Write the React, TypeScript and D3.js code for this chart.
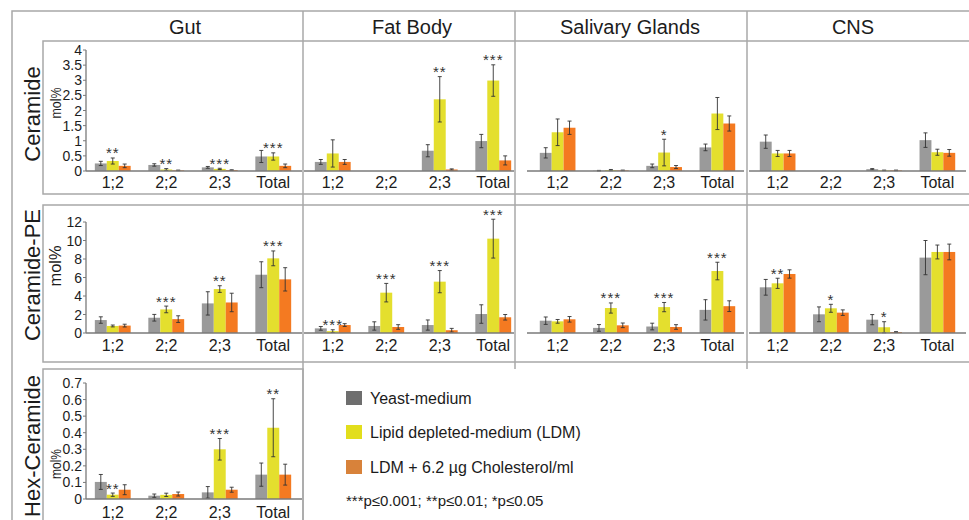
import React from 'react';
import * as d3 from 'd3';

const tissues = ['Gut', 'Fat Body', 'Salivary Glands', 'CNS'];
const categories = ['1;2', '2;2', '2;3', 'Total'];
const seriesNames = ['Yeast-medium', 'Lipid depleted-medium (LDM)', 'LDM + 6.2 µg Cholesterol/ml'];
const rowNames = ['Ceramide', 'Ceramide-PE', 'Hex-Ceramide'];
const pLegend = '***p≤0.001; **p≤0.01; *p≤0.05';

// each category: [yeast, LDM, LDM + cholesterol]
// Ceramide
const cerGut = [[0.25, 0.33, 0.17], [0.2, 0.05, 0.02], [0.12, 0.07, 0.03], [0.48, 0.48, 0.17]];
const cerGutErr = [[0.07, 0.1, 0.06], [0.04, 0.03, 0.01], [0.03, 0.02, 0.01], [0.2, 0.12, 0.06]];
const cerGutSig = ['**', '**', '***', '***'];
const cerFat = [[0.3, 0.58, 0.3], [0, 0, 0], [0.67, 2.37, 0.05], [0.99, 2.99, 0.35]];
const cerFatErr = [[0.08, 0.45, 0.08], [0, 0, 0], [0.2, 0.75, 0.02], [0.22, 0.52, 0.15]];
const cerFatSig = ['', '', '**', '***'];
const cerSal = [[0.6, 1.28, 1.43], [0.01, 0.03, 0.02], [0.17, 0.61, 0.13], [0.78, 1.9, 1.57]];
const cerSalErr = [[0.17, 0.44, 0.22], [0.01, 0.02, 0.01], [0.06, 0.44, 0.05], [0.11, 0.53, 0.25]];
const cerSalSig = ['', '', '*', ''];
const cerCns = [[0.97, 0.58, 0.58], [0, 0, 0], [0.06, 0.02, 0.02], [1.02, 0.62, 0.6]];
const cerCnsErr = [[0.22, 0.1, 0.1], [0, 0, 0], [0.02, 0.01, 0.01], [0.24, 0.1, 0.11]];
const cerCnsSig = ['', '', '', ''];

// Ceramide-PE
const pepGut = [[1.4, 0.76, 0.8], [1.65, 2.55, 1.5], [3.2, 4.75, 3.3], [6.3, 8.07, 5.8]];
const pepGutErr = [[0.35, 0.1, 0.15], [0.36, 0.36, 0.36], [1.26, 0.36, 1.0], [1.4, 0.8, 1.26]];
const pepGutSig = ['', '***', '**', '***'];
const pepFat = [[0.5, 0.2, 0.86], [0.76, 4.36, 0.65], [0.86, 5.55, 0.3], [2.05, 10.2, 1.7]];
const pepFatErr = [[0.2, 0.15, 0.15], [0.45, 1.0, 0.25], [0.55, 1.2, 0.2], [1.0, 2.1, 0.3]];
const pepFatSig = ['***', '***', '***', '***'];
const pepSal = [[1.33, 1.26, 1.48], [0.55, 2.7, 0.83], [0.7, 2.8, 0.65], [2.5, 6.7, 2.9]];
const pepSalErr = [[0.4, 0.2, 0.3], [0.36, 0.55, 0.25], [0.36, 0.5, 0.25], [1.1, 0.95, 0.58]];
const pepSalSig = ['', '***', '***', '***'];
const pepCns = [[4.94, 5.37, 6.38], [2.02, 2.67, 2.2], [1.44, 0.62, 0.1], [8.15, 8.76, 8.76]];
const pepCnsErr = [[0.85, 0.55, 0.45], [0.8, 0.43, 0.3], [0.55, 0.6, 0.05], [1.85, 0.75, 0.85]];
const pepCnsSig = ['**', '*', '*', ''];

// Hex-Ceramide
const hexGut = [[0.103, 0.026, 0.056], [0.02, 0.025, 0.03], [0.04, 0.3, 0.056], [0.147, 0.43, 0.147]];
const hexGutErr = [[0.045, 0.01, 0.03], [0.01, 0.01, 0.012], [0.035, 0.065, 0.015], [0.07, 0.175, 0.063]];
const hexGutSig = ['**', '', '***', '**'];

const barColors = ['#9a9a9a', '#e4df2e', '#f47a21'];
const swatchColors = ['#6e6e6e', '#e2de1c', '#d8823a'];
const lineColor = '#a8a8a8';
const textColor = '#1c1c1c';
const font = "'Liberation Sans', Arial, sans-serif";

const rows = [
  { y0: 171, y1: 50, max: 4, ticks: d3.range(0, 4.01, 0.5), molSize: 15, molLen: 31, molY: 103, labelY: 114, catY: 188 },
  { y0: 333, y1: 222, max: 12, ticks: d3.range(0, 12.01, 2), molSize: 16, molLen: 41, molY: 266, labelY: 275, catY: 351 },
  { y0: 499, y1: 383, max: 0.7, ticks: d3.range(0, 0.701, 0.1), molSize: 15, molLen: 30, molY: 464, labelY: 446, catY: 518 },
];

const cols = [
  { x0: 86, x1: 300, ax0: 86, ax1: 302, title: 185 },
  { x0: 306, x1: 520, ax0: 304, ax1: 514, title: 412 },
  { x0: 531, x1: 744, ax0: 527, ax1: 744, title: 630 },
  { x0: 751, x1: 964, ax0: 749, ax1: 966, title: 853 },
];

const panels = [
  { row: 0, col: 0, v: cerGut, e: cerGutErr, s: cerGutSig },
  { row: 0, col: 1, v: cerFat, e: cerFatErr, s: cerFatSig },
  { row: 0, col: 2, v: cerSal, e: cerSalErr, s: cerSalSig },
  { row: 0, col: 3, v: cerCns, e: cerCnsErr, s: cerCnsSig },
  { row: 1, col: 0, v: pepGut, e: pepGutErr, s: pepGutSig },
  { row: 1, col: 1, v: pepFat, e: pepFatErr, s: pepFatSig },
  { row: 1, col: 2, v: pepSal, e: pepSalErr, s: pepSalSig },
  { row: 1, col: 3, v: pepCns, e: pepCnsErr, s: pepCnsSig },
  { row: 2, col: 0, v: hexGut, e: hexGutErr, s: hexGutSig },
];

function fmt(t: number) {
  return String(Math.round(t * 10) / 10);
}

function Panel({ p }: { p: any }) {
  const r = rows[p.row];
  const c = cols[p.col];
  const y = d3.scaleLinear().domain([0, r.max]).range([r.y0, r.y1]);
  const x = d3.scaleBand().domain(categories).range([c.x0, c.x1]).paddingInner(0.33).paddingOuter(0.165);
  const xs = d3.scaleBand().domain(['0', '1', '2']).range([0, x.bandwidth()]);
  const cap = 2;
  return (
    <g>
      {categories.map((cat, i) => {
        const gx = x(cat) as number;
        return (
          <g key={cat}>
            {p.v[i].map((val: number, k: number) => {
              const bx = gx + (xs(String(k)) as number);
              const top = y(val);
              return (
                <rect key={k} x={bx} y={top} width={xs.bandwidth()} height={r.y0 - top} fill={barColors[k]} />
              );
            })}
            {p.v[i].map((val: number, k: number) => {
              const err = p.e[i][k];
              if (val <= 0 && err <= 0) return null;
              const cx = gx + (xs(String(k)) as number) + xs.bandwidth() / 2;
              const hi = y(val + err);
              const lo = y(Math.max(0, val - err));
              return (
                <g key={'e' + k} stroke="#333" strokeWidth={0.9}>
                  <line x1={cx} x2={cx} y1={hi} y2={lo} />
                  <line x1={cx - cap} x2={cx + cap} y1={hi} y2={hi} />
                  <line x1={cx - cap} x2={cx + cap} y1={lo} y2={lo} />
                </g>
              );
            })}
            {p.s[i] && (
              <text
                x={gx + x.bandwidth() / 2}
                y={y(p.v[i][1] + p.e[i][1]) + 0.5}
                textAnchor="middle"
                fontSize={15}
                fill="#333"
                letterSpacing={1}
              >
                {p.s[i]}
              </text>
            )}
            <text x={gx + x.bandwidth() / 2} y={r.catY} textAnchor="middle" fontSize={16} fill={textColor}>
              {cat}
            </text>
          </g>
        );
      })}
      <line x1={c.ax0} x2={c.ax1} y1={r.y0} y2={r.y0} stroke="#7a7a7a" strokeWidth={1.3} />
      {p.col === 0 && (
        <g>
          <line x1={86} x2={86} y1={r.y1} y2={r.y0} stroke="#7a7a7a" strokeWidth={1.3} />
          {r.ticks.map((t) => (
            <g key={t}>
              <line x1={83} x2={86} y1={y(t)} y2={y(t)} stroke="#7a7a7a" strokeWidth={1} />
              <text x={82} y={y(t)} dy="0.36em" textAnchor="end" fontSize={14} fill={textColor}>
                {fmt(t)}
              </text>
            </g>
          ))}
          <text
            transform={`translate(61,${r.molY}) rotate(-90)`}
            textAnchor="middle"
            fontSize={r.molSize}
            textLength={r.molLen}
            lengthAdjust="spacingAndGlyphs"
            fill={textColor}
          >
            mol%
          </text>
          <text
            transform={`translate(40,${r.labelY}) rotate(-90)`}
            textAnchor="middle"
            fontSize={22}
            fill={textColor}
          >
            {rowNames[p.row]}
          </text>
        </g>
      )}
    </g>
  );
}

export default function App() {
  const legendY = [391, 425, 460];
  return (
    <svg
      width={969}
      height={520}
      style={{ position: 'absolute', left: 0, top: 0, background: '#fff' }}
      fontFamily={font}
    >
      <rect x={0} y={0} width={969} height={520} fill="#fff" />
      <g fill="none" stroke={lineColor} strokeWidth={1.5}>
        <path d="M12,520 V11 H969" />
        <path d="M969,41 H43 V194 H969" />
        <path d="M969,205 H43 V362 H969" />
        <path d="M303,520 V369 H43 V520" />
        <line x1={303} x2={303} y1={11} y2={520} />
        <line x1={515} x2={515} y1={11} y2={369} />
        <line x1={747} x2={747} y1={11} y2={369} />
      </g>
      {tissues.map((t, i) => (
        <text key={t} x={cols[i].title} y={34} textAnchor="middle" fontSize={20} fill={textColor}>
          {t}
        </text>
      ))}
      {panels.map((p, i) => (
        <Panel key={i} p={p} />
      ))}
      {seriesNames.map((s, i) => (
        <g key={s}>
          <rect x={346} y={legendY[i]} width={16} height={14} fill={swatchColors[i]} />
          <text x={370} y={legendY[i] + 13} fontSize={16} fill={textColor}>
            {s}
          </text>
        </g>
      ))}
      <text x={346} y={506} fontSize={15} fill={textColor}>
        {pLegend}
      </text>
    </svg>
  );
}
